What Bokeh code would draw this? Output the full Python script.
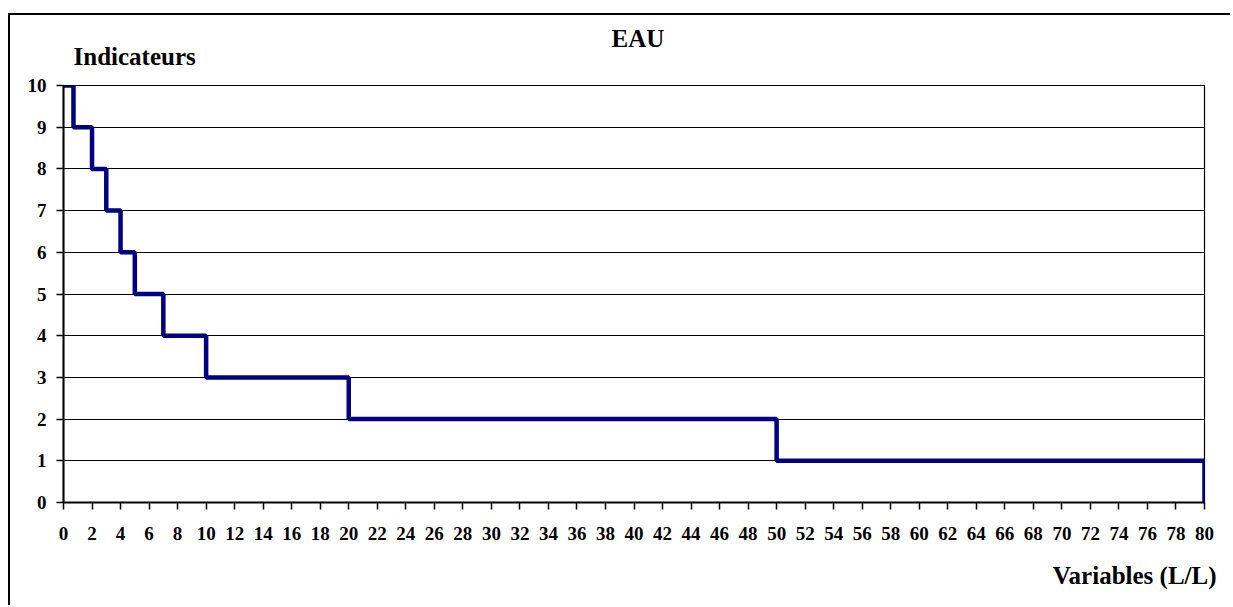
from bokeh.plotting import figure
from bokeh.models import Range1d, FixedTicker, Title
from bokeh.embed import file_html
from bokeh.resources import INLINE

# Data: indicator value (y) as a step function of the variable (x, L/L)
thresholds = [0, 0.7, 2, 3, 4, 5, 7, 10, 20, 50, 80]
indicators = [10, 9, 8, 7, 6, 5, 4, 3, 2, 1, 0]
x_ticks = list(range(0, 81, 2))
y_ticks = list(range(0, 11))

title_text = "EAU"
y_title = "Indicateurs"
x_title = "Variables (L/L)"

FONT = "Liberation Serif"

p = figure(
    width=1222, height=592,
    x_range=Range1d(0, 80), y_range=Range1d(0, 10),
    output_backend="svg", toolbar_location=None,
    min_border_left=53, min_border_right=28, min_border_top=70, min_border_bottom=105,
    margin=(13, 0, 0, 8),
    styles={"border-left": "2px solid black", "border-top": "2px solid black"},
)
p.background_fill_color = "white"
p.border_fill_color = "white"
p.outline_line_color = "black"
p.outline_line_width = 1.2

p.step(thresholds, indicators, mode="after", line_color="#000080", line_width=4.5)

for ax in (p.xaxis[0], p.yaxis[0]):
    ax.axis_line_color = "black"
    ax.axis_line_width = 2
    ax.major_tick_line_color = "black"
    ax.major_tick_line_width = 1.5
    ax.major_tick_out = 7
    ax.major_tick_in = 0
    ax.minor_tick_line_color = None
    ax.major_label_text_font = FONT
    ax.major_label_text_font_style = "bold"
    ax.major_label_text_font_size = "19px"
    ax.major_label_text_color = "black"

p.xaxis.ticker = FixedTicker(ticks=x_ticks)
p.yaxis.ticker = FixedTicker(ticks=y_ticks)
p.xaxis.major_label_standoff = 17
p.yaxis.major_label_standoff = 10

p.xgrid.grid_line_color = None
p.ygrid.ticker = FixedTicker(ticks=y_ticks)
p.ygrid.grid_line_color = "black"
p.ygrid.grid_line_width = 1.2
p.ygrid.grid_line_alpha = 1.0

def mk_title(text, align, offset, standoff):
    return Title(text=text, align=align, offset=offset, standoff=standoff,
                 vertical_align="bottom",
                 text_font=FONT, text_font_style="bold", text_font_size="25px",
                 text_color="black")

p.title = None
p.add_layout(mk_title(y_title, "left", 10, 31), "above")
p.add_layout(mk_title(title_text, "left", 548, -53), "above")
p.add_layout(mk_title(x_title, "right", -12, 34), "below")

open("out.html", "w").write(file_html(p, INLINE))
